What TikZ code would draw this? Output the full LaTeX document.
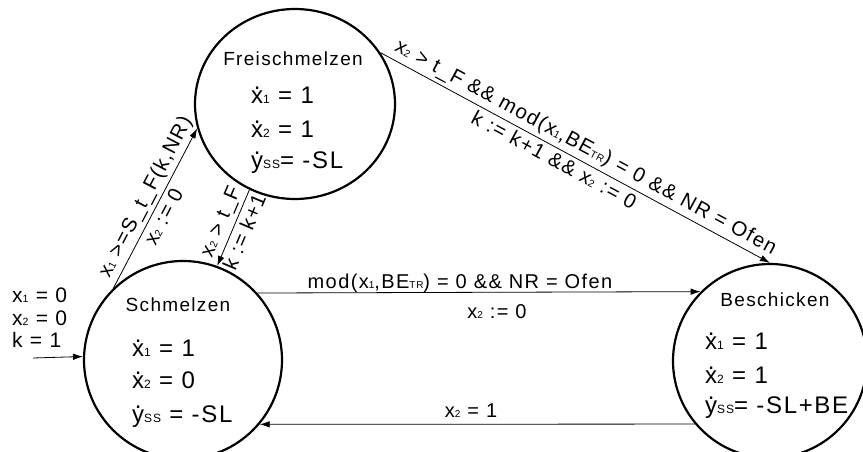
\documentclass[tikz,border=0pt]{standalone}
\usepackage{fontspec}
\setmainfont{Liberation Sans}[LetterSpace=7]
\usepackage{graphicx}
\usetikzlibrary{shapes.geometric,arrows.meta}
\newcommand\dt[1]{{\ooalign{#1\cr\hidewidth\raisebox{0.58em}{.}\hidewidth\cr}}}
\newcommand\sbs[1]{\scalebox{0.5}{#1}}
\begin{document}
\begin{tikzpicture}[x=1pt,y=-1pt,
  state/.style={ellipse, draw, line width=2.2pt, inner sep=0pt},
  edge/.style={-{Latex[length=10pt,width=6.5pt]}, line width=0.8pt},
  title/.style={font=\fontsize{19}{22}\selectfont, inner sep=0pt},
  eq/.style={font=\fontsize{24}{26}\selectfont, inner sep=0pt, anchor=base west},
  lbl/.style={font=\fontsize{20.5}{22}\selectfont, inner sep=3.5pt},
  hlbl/.style={font=\fontsize{20}{22}\selectfont, inner sep=0pt, anchor=base},
  ilbl/.style={font=\fontsize{21}{22}\selectfont, inner sep=0pt, anchor=base west}]
\useasboundingbox (0,0) rectangle (863,452);

% states
\node[state, minimum width=200pt, minimum height=190pt] (F) at (295,104) {};
\node[state, minimum width=198pt, minimum height=198pt] (S) at (183,360) {};
\node[state, minimum width=194pt, minimum height=194pt] (B) at (770,361) {};

% Freischmelzen contents
\node[title] (Ft) at (293,59) {Freischmelzen};
\node[eq] (F1) at (251,103) {\dt{x}\sbs{1} = 1};
\node[eq] (F2) at (251,137) {\dt{x}\sbs{2} = 1};
\node[eq] (F3) at (251,168) {\dt{y}\sbs{SS}= -SL};

% Schmelzen contents
\node[title] (St) at (178,305) {Schmelzen};
\node[eq] (S1) at (132,356) {\dt{x}\sbs{1} = 1};
\node[eq] (S2) at (132,388) {\dt{x}\sbs{2} = 0};
\node[eq] (S3) at (132,422) {\dt{y}\sbs{SS} = -SL};

% Beschicken contents
\node[title] (Bt) at (775,300) {Beschicken};
\node[eq] (B1) at (705,349) {\dt{x}\sbs{1} = 1};
\node[eq] (B2) at (705,383) {\dt{x}\sbs{2} = 1};
\node[eq] (B3) at (705,413) {\dt{y}\sbs{SS}= -SL+BE};

% initial
\node[ilbl] (i1) at (12,302) {x\sbs{1} = 0};
\node[ilbl] (i2) at (12,325) {x\sbs{2} = 0};
\node[ilbl] (i3) at (12,347) {k = 1};
\coordinate (init) at (33,358);
\draw[edge] (init) -- (S.178.8);

% transitions
\draw[edge] (S.134.6) --
  node[lbl, sloped, above, pos=0.53] (l1) {x\sbs{1} >=S\_t\_F(k,NR)}
  node[lbl, sloped, below, pos=0.48] (l2) {x\sbs{2} := 0} (F.194.3);
\draw[edge] (F.242.6) --
  node[lbl, sloped, above, pos=0.49] (l3) {x\sbs{2} > t\_F}
  node[lbl, sloped, below, pos=0.49] (l4) {k := k+1} (S.70.8);
\draw[edge] (F.31.8) --
  node[lbl, sloped, above, pos=0.51] (l5) {x\sbs{2} > t\_F \&\& mod(x\sbs{1},BE\sbs{TR}) = 0 \&\& NR = Ofen}
  node[lbl, sloped, below, pos=0.46] (l6) {k := k+1 \&\& x\sbs{2} := 0} (B.90);
\draw[edge] (S.42.6) -- (B.135.5);
\node[hlbl] (l7) at (460,288) {mod(x\sbs{1},BE\sbs{TR}) = 0 \&\& NR = Ofen};
\node[hlbl] (l8) at (497,318) {x\sbs{2} := 0};
\draw[edge] (B.220.5) -- (S.-40.3);
\node[hlbl] (l9) at (471,417) {x\sbs{2} = 1};
\end{tikzpicture}
\end{document}
